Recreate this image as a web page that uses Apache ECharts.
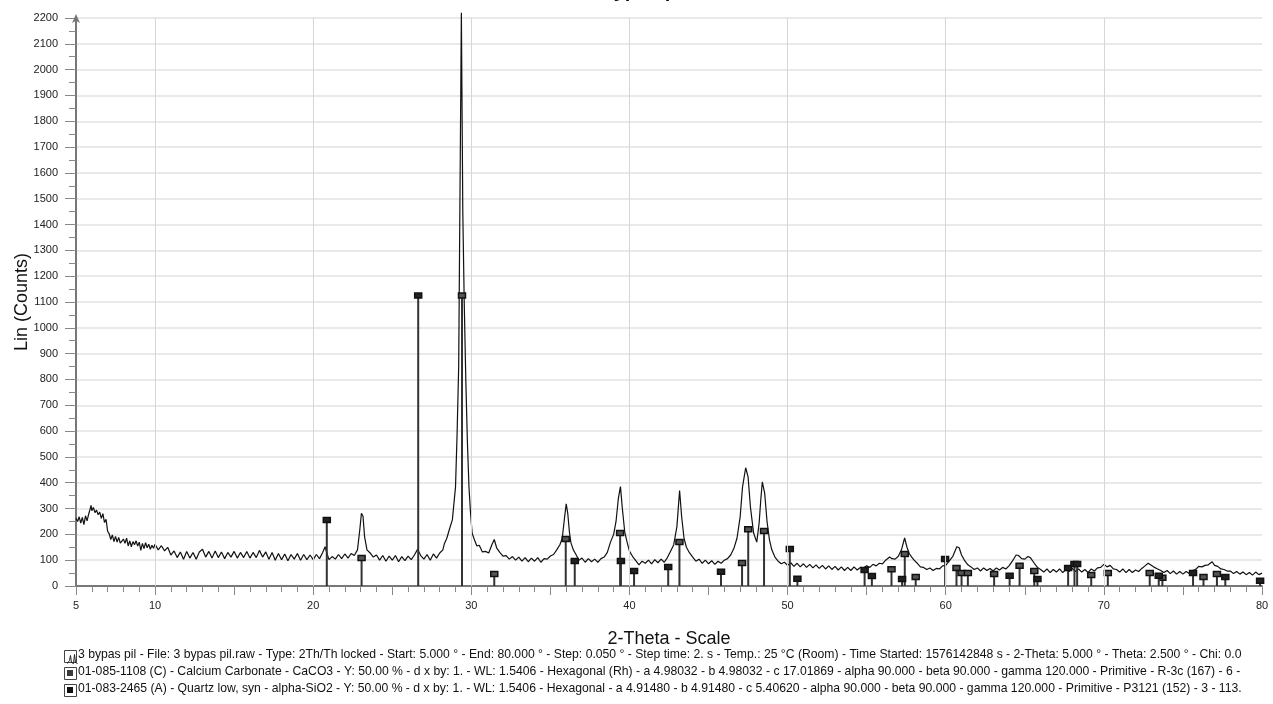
<!DOCTYPE html>
<html>
<head>
<meta charset="utf-8">
<script src="https://cdn.jsdelivr.net/npm/echarts@6/dist/echarts.min.js"></script>
<style>
  html, body { margin: 0; padding: 0; background: #fff; }
  #container { width: 1273px; height: 704px; }
</style>
</head>
<body>
<div id="container"></div>
<script>
var dom = document.getElementById("container");
var myChart = echarts.init(dom);

// measured scan, [2-theta, counts]
var scan = [
  [5.0, 262], [5.1, 250], [5.2, 268], [5.3, 244], [5.4, 266], [5.5, 238], [5.6, 272], [5.7, 252], [5.8, 278], [5.9, 300],
  [5.95, 312], [6.0, 292], [6.1, 304], [6.2, 284], [6.3, 294], [6.4, 276], [6.5, 286], [6.6, 262], [6.7, 280], [6.8, 246],
  [6.9, 258], [7.0, 212], [7.1, 202], [7.2, 180], [7.3, 198], [7.4, 172], [7.5, 192], [7.6, 170], [7.7, 188], [7.8, 166],
  [7.9, 160], [8.0, 182], [8.1, 165], [8.2, 185], [8.3, 155], [8.4, 175], [8.5, 152], [8.6, 172], [8.7, 160], [8.8, 175],
  [8.9, 155], [9.0, 170], [9.1, 138], [9.2, 165], [9.3, 145], [9.4, 168], [9.5, 148], [9.6, 162], [9.7, 142], [9.8, 158],
  [9.9, 146], [10.0, 162], [10.2, 140], [10.4, 156], [10.6, 136], [10.8, 150], [11.0, 120], [11.2, 136], [11.4, 110], [11.6, 132],
  [11.8, 104], [12.0, 134], [12.2, 108], [12.4, 130], [12.6, 104], [12.8, 132], [13.0, 142], [13.2, 112], [13.4, 134], [13.6, 108],
  [13.8, 136], [14.0, 110], [14.2, 132], [14.4, 106], [14.6, 130], [14.8, 112], [15.0, 134], [15.2, 108], [15.4, 130], [15.6, 110],
  [15.8, 134], [16.0, 108], [16.2, 130], [16.4, 110], [16.6, 138], [16.8, 112], [17.0, 132], [17.2, 104], [17.4, 130], [17.6, 100],
  [17.8, 126], [18.0, 102], [18.2, 124], [18.4, 98], [18.6, 122], [18.8, 104], [19.0, 126], [19.2, 100], [19.4, 122], [19.6, 102],
  [19.8, 120], [20.0, 102], [20.2, 122], [20.4, 106], [20.6, 130], [20.75, 152], [20.9, 120], [21.0, 102], [21.2, 114], [21.4, 104],
  [21.6, 122], [21.8, 106], [22.0, 124], [22.2, 108], [22.4, 126], [22.6, 118], [22.8, 140], [22.95, 220], [23.05, 282], [23.15, 270],
  [23.25, 190], [23.4, 140], [23.6, 128], [23.8, 112], [24.0, 120], [24.2, 100], [24.4, 118], [24.6, 96], [24.8, 116], [25.0, 100],
  [25.2, 118], [25.4, 94], [25.6, 114], [25.8, 98], [26.0, 116], [26.2, 102], [26.4, 120], [26.6, 142], [26.8, 118], [27.0, 104],
  [27.2, 122], [27.4, 100], [27.6, 124], [27.8, 108], [28.0, 128], [28.2, 140], [28.3, 165], [28.45, 185], [28.6, 217], [28.8, 256],
  [29.0, 384], [29.1, 590], [29.2, 850], [29.28, 1500], [29.37, 2220], [29.46, 1450], [29.55, 1100], [29.65, 800], [29.75, 560], [29.85, 384],
  [29.95, 283], [30.05, 205], [30.2, 178], [30.35, 155], [30.5, 158], [30.7, 132], [30.9, 134], [31.1, 128], [31.3, 160], [31.45, 180],
  [31.6, 148], [31.8, 130], [32.0, 116], [32.2, 118], [32.4, 104], [32.6, 114], [32.8, 100], [33.0, 112], [33.2, 96], [33.4, 110],
  [33.6, 94], [33.8, 108], [34.0, 96], [34.2, 110], [34.4, 92], [34.6, 106], [34.8, 104], [35.0, 116], [35.2, 122], [35.4, 140],
  [35.6, 160], [35.75, 185], [35.9, 268], [36.0, 318], [36.1, 280], [36.2, 210], [36.3, 167], [36.45, 140], [36.6, 124], [36.8, 100],
  [37.0, 108], [37.2, 92], [37.4, 106], [37.6, 94], [37.8, 104], [38.0, 92], [38.2, 106], [38.4, 112], [38.6, 130], [38.8, 170],
  [39.0, 200], [39.15, 250], [39.3, 340], [39.43, 385], [39.55, 300], [39.7, 210], [39.85, 170], [40.0, 135], [40.2, 114], [40.4, 98],
  [40.6, 82], [40.8, 96], [41.0, 88], [41.2, 100], [41.4, 86], [41.6, 102], [41.8, 90], [42.0, 104], [42.2, 92], [42.4, 110],
  [42.6, 135], [42.8, 160], [43.0, 230], [43.17, 370], [43.3, 268], [43.45, 185], [43.6, 150], [43.8, 128], [44.0, 112], [44.2, 96],
  [44.4, 104], [44.6, 88], [44.8, 100], [45.0, 86], [45.2, 98], [45.4, 84], [45.6, 96], [45.8, 88], [46.0, 100], [46.2, 106],
  [46.4, 120], [46.6, 145], [46.8, 185], [47.0, 268], [47.15, 384], [47.35, 458], [47.5, 423], [47.65, 306], [47.85, 205], [48.05, 170],
  [48.2, 244], [48.3, 330], [48.4, 403], [48.55, 360], [48.7, 250], [48.85, 180], [49.0, 140], [49.2, 112], [49.4, 96], [49.6, 86],
  [49.8, 92], [50.0, 80], [50.2, 90], [50.4, 76], [50.6, 88], [50.8, 74], [51.0, 86], [51.2, 72], [51.4, 84], [51.6, 70],
  [51.8, 82], [52.0, 68], [52.2, 80], [52.4, 66], [52.6, 78], [52.8, 64], [53.0, 76], [53.2, 62], [53.4, 74], [53.6, 60],
  [53.8, 72], [54.0, 60], [54.2, 74], [54.4, 62], [54.6, 72], [54.8, 70], [55.0, 78], [55.2, 72], [55.4, 84], [55.6, 78],
  [55.8, 88], [56.0, 86], [56.2, 100], [56.45, 112], [56.6, 106], [56.8, 104], [57.0, 115], [57.2, 140], [57.4, 186], [57.55, 150],
  [57.7, 125], [57.85, 112], [58.0, 100], [58.2, 88], [58.4, 74], [58.6, 72], [58.8, 64], [59.0, 70], [59.2, 60], [59.4, 68],
  [59.6, 66], [59.8, 78], [60.0, 80], [60.2, 95], [60.45, 115], [60.7, 152], [60.85, 148], [61.0, 120], [61.2, 98], [61.4, 82],
  [61.6, 74], [61.8, 64], [62.0, 70], [62.2, 58], [62.4, 70], [62.6, 60], [62.8, 68], [63.0, 58], [63.2, 70], [63.4, 62],
  [63.6, 72], [63.8, 66], [64.0, 78], [64.2, 95], [64.45, 120], [64.6, 118], [64.8, 106], [65.0, 104], [65.2, 114], [65.35, 110],
  [65.6, 88], [65.8, 72], [66.0, 64], [66.2, 54], [66.4, 66], [66.6, 52], [66.8, 64], [67.0, 54], [67.2, 66], [67.4, 52],
  [67.6, 64], [67.8, 56], [68.0, 68], [68.2, 56], [68.4, 66], [68.6, 54], [68.8, 64], [69.0, 52], [69.2, 66], [69.4, 58],
  [69.6, 70], [69.8, 72], [70.0, 84], [70.2, 74], [70.4, 80], [70.6, 66], [70.8, 64], [71.0, 54], [71.2, 66], [71.4, 52],
  [71.6, 64], [71.8, 52], [72.0, 62], [72.2, 56], [72.4, 68], [72.6, 78], [72.8, 88], [73.0, 80], [73.2, 72], [73.4, 66],
  [73.6, 60], [73.8, 52], [74.0, 60], [74.2, 48], [74.4, 58], [74.6, 46], [74.8, 56], [75.0, 46], [75.2, 56], [75.4, 48],
  [75.6, 60], [75.8, 64], [76.0, 76], [76.2, 74], [76.4, 80], [76.6, 82], [76.85, 94], [77.0, 80], [77.2, 76], [77.4, 66],
  [77.6, 64], [77.8, 58], [78.0, 58], [78.2, 48], [78.4, 56], [78.6, 46], [78.8, 54], [79.0, 44], [79.2, 52], [79.4, 42],
  [79.6, 54], [79.8, 44], [80.0, 50]
];

// reference pattern sticks, [2-theta, scaled counts]
var calcite = [
  [23.06, 108], [29.41, 1125], [31.45, 46], [35.97, 182], [39.41, 205], [43.16, 170], [47.12, 89], [47.51, 220],
  [48.51, 213], [56.57, 65], [57.41, 124], [58.1, 35], [60.68, 70], [61.0, 50], [61.4, 50], [63.06, 46], [64.67, 78],
  [65.6, 58], [69.2, 43], [70.25, 50], [72.9, 50], [73.7, 32], [76.3, 35], [77.15, 46]
];
var quartz = [
  [20.86, 256], [26.64, 1125], [36.54, 97], [39.46, 97], [40.29, 58], [42.45, 74], [45.79, 55], [50.14, 143],
  [50.62, 28], [54.87, 62], [55.33, 39], [57.24, 27], [59.96, 105], [64.04, 40], [65.8, 27], [67.74, 70],
  [68.14, 85], [68.31, 85], [73.47, 40], [75.64, 50], [77.68, 35], [79.88, 20]
];

var gridAngles = [10, 20, 30, 40, 50, 60, 70];

var legendLines = [
  '3 bypas pil - File: 3 bypas pil.raw - Type: 2Th/Th locked - Start: 5.000 ° - End: 80.000 ° - Step: 0.050 ° - Step time: 2. s - Temp.: 25 °C (Room) - Time Started: 1576142848 s - 2-Theta: 5.000 ° - Theta: 2.500 ° - Chi: 0.0',
  '01-085-1108 (C) - Calcium Carbonate - CaCO3 - Y: 50.00 % - d x by: 1. - WL: 1.5406 - Hexagonal (Rh) - a 4.98032 - b 4.98032 - c 17.01869 - alpha 90.000 - beta 90.000 - gamma 120.000 - Primitive - R-3c (167) - 6 -',
  '01-083-2465 (A) - Quartz low, syn - alpha-SiO2 - Y: 50.00 % - d x by: 1. - WL: 1.5406 - Hexagonal - a 4.91480 - b 4.91480 - c 5.40620 - alpha 90.000 - beta 90.000 - gamma 120.000 - Primitive - P3121 (152) - 3 - 113.'
];

function stickRenderer(fill) {
    return function (params, api) {
        var base = api.coord([api.value(0), 0]);
        var top = api.coord([api.value(0), api.value(1)]);
        return {
            type: 'group',
            children: [{
                type: 'line',
                shape: { x1: base[0], y1: base[1], x2: top[0], y2: top[1] },
                style: { stroke: '#333', lineWidth: 2 }
            }, {
                type: 'rect',
                shape: { x: top[0] - 3.5, y: top[1] - 2.5, width: 7, height: 5 },
                style: { fill: fill, stroke: '#111', lineWidth: 1.5 }
            }]
        };
    };
}

// legend block under the axis
var legendGraphics = [];
var legendY = [656, 673, 690];
legendLines.forEach(function (txt, i) {
    var y = legendY[i];
    legendGraphics.push({
        type: 'rect', left: 64, top: y - 6,
        shape: { width: 12, height: 12 },
        style: { fill: '#fff', stroke: '#444', lineWidth: 1 }
    });
    if (i === 0) {
        legendGraphics.push({
            type: 'polyline', left: 65, top: y - 4,
            shape: { points: [[0, 9], [2, 6], [3, 1], [4, 8], [6, 9], [7, 0], [8, 8], [10, 9]] },
            style: { fill: null, stroke: '#222', lineWidth: 1 }
        });
    } else {
        legendGraphics.push({
            type: 'rect', left: 67, top: y - 3,
            shape: { width: 6, height: 6 },
            style: { fill: i === 1 ? '#3a3a3a' : '#111' }
        });
    }
    legendGraphics.push({
        type: 'text', left: 78, top: y - 7,
        style: { text: txt, fill: '#111', font: '12.2px "Liberation Sans", Arial, sans-serif' }
    });
});

var option = {
    backgroundColor: '#fff',
    animation: false,
    title: {
        text: '3 bypas pil',
        left: 'center',
        top: -24,
        textStyle: { fontSize: 20, fontWeight: 'bold', color: '#111', fontFamily: 'Liberation Sans, Arial' }
    },
    grid: {
        left: 76,
        right: 11,
        top: 18,
        bottom: 118
    },
    xAxis: {
        type: 'value',
        min: 5,
        max: 80,
        interval: 5,
        name: '2-Theta - Scale',
        nameLocation: 'middle',
        nameGap: 44,
        nameTextStyle: { fontSize: 18, color: '#111', fontFamily: 'Liberation Sans, Arial' },
        axisLine: { lineStyle: { color: '#777', width: 2 } },
        axisTick: { length: 9, lineStyle: { color: '#888', width: 1 } },
        minorTick: { show: true, splitNumber: 5, length: 6, lineStyle: { color: '#888', width: 1 } },
        splitLine: { show: false },
        axisLabel: {
            margin: 14,
            fontSize: 11,
            color: '#222',
            fontFamily: 'Liberation Sans, Arial',
            formatter: function (v) {
                return (v === 5 || v % 10 === 0) ? String(v) : '';
            }
        }
    },
    yAxis: {
        type: 'value',
        min: 0,
        max: 2200,
        interval: 100,
        name: 'Lin (Counts)',
        nameLocation: 'middle',
        nameGap: 45,
        nameMoveOverlap: false,
        nameTextStyle: { fontSize: 18, color: '#111', fontFamily: 'Liberation Sans, Arial' },
        axisLine: {
            show: true,
            symbol: ['none', 'arrow'],
            symbolSize: [6, 9],
            symbolOffset: [0, 4],
            lineStyle: { color: '#777', width: 2 }
        },
        axisTick: { show: true, length: 11, lineStyle: { color: '#888', width: 1 } },
        minorTick: { show: true, splitNumber: 2, length: 7, lineStyle: { color: '#888', width: 1 } },
        splitLine: { show: true, lineStyle: { color: '#e2e2e2', width: 1.5 } },
        axisLabel: {
            margin: 18,
            fontSize: 11,
            color: '#222',
            fontFamily: 'Liberation Sans, Arial',
            formatter: function (v) { return String(v); }
        }
    },
    graphic: legendGraphics,
    series: [{
        name: 'scan',
        type: 'line',
        data: scan,
        showSymbol: false,
        clip: false,
        lineStyle: { color: '#111', width: 1.2 },
        markLine: {
            silent: true,
            symbol: 'none',
            label: { show: false },
            lineStyle: { color: '#d6d6d6', width: 1, type: 'solid' },
            data: gridAngles.map(function (a) { return { xAxis: a }; })
        },
        z: 3
    }, {
        name: 'calcite',
        type: 'custom',
        renderItem: stickRenderer('#555'),
        encode: { x: 0, y: 1 },
        data: calcite,
        z: 4
    }, {
        name: 'quartz',
        type: 'custom',
        renderItem: stickRenderer('#222'),
        encode: { x: 0, y: 1 },
        data: quartz,
        z: 4
    }]
};

myChart.setOption(option);
</script>
</body>
</html>
